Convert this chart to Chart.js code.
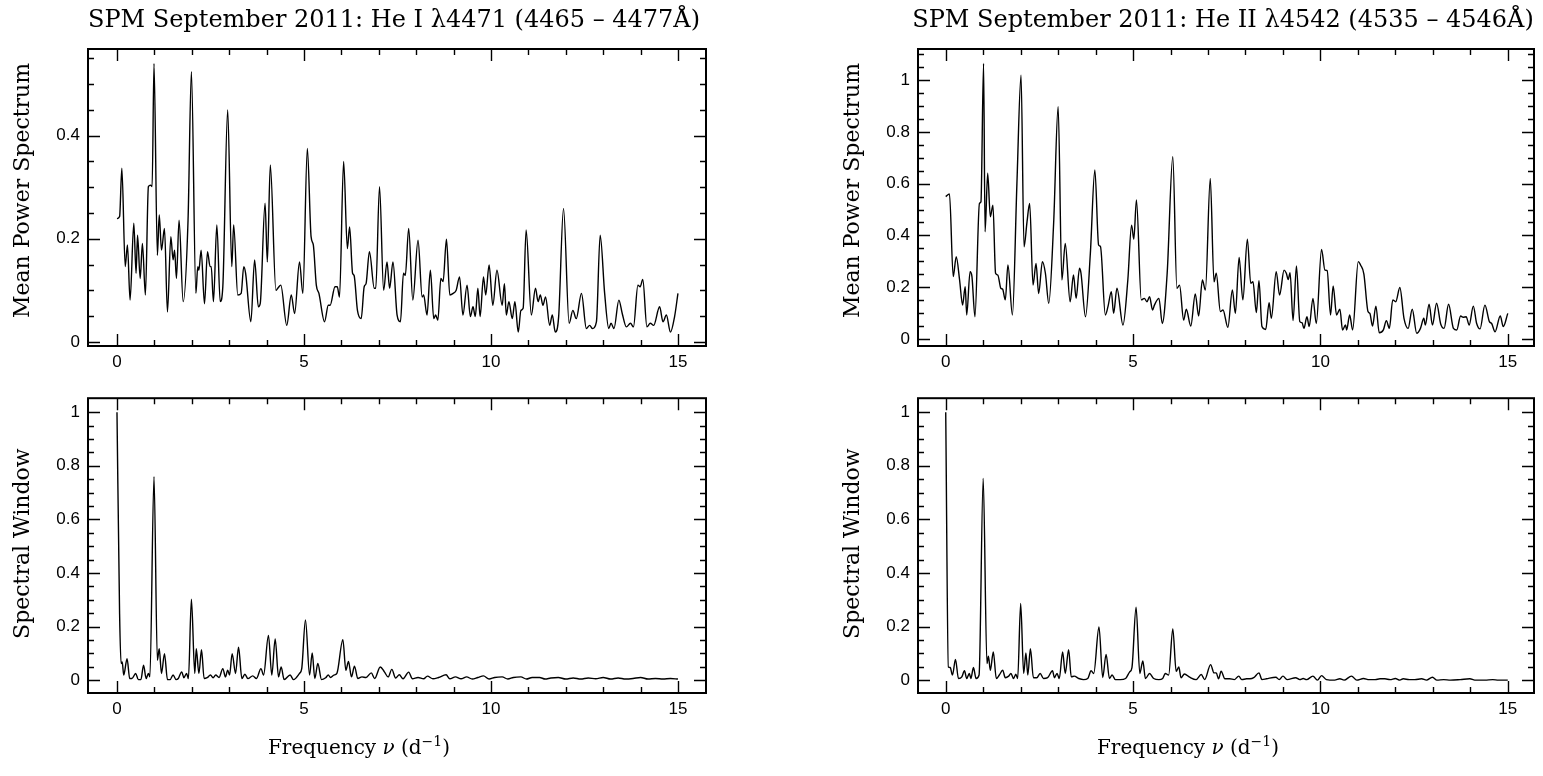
<!DOCTYPE html>
<html>
<head>
<meta charset="utf-8">
<script src="https://cdn.jsdelivr.net/npm/chart.js@4/dist/chart.umd.min.js"></script>
<style>
  html, body { margin: 0; padding: 0; background: #fff; overflow: hidden; }
  #page { position: relative; width: 1543px; height: 776px; }
  .panel { position: absolute; }
</style>
</head>
<body>
<div id="page">
  <div class="panel" style="left:0;top:0;width:760px;height:380px"><canvas id="heIPowerChart"></canvas></div>
  <div class="panel" style="left:830px;top:0;width:713px;height:380px"><canvas id="heIIPowerChart"></canvas></div>
  <div class="panel" style="left:0;top:380px;width:760px;height:396px"><canvas id="heIWindowChart"></canvas></div>
  <div class="panel" style="left:830px;top:380px;width:713px;height:396px"><canvas id="heIIWindowChart"></canvas></div>
</div>
<script>
// tick positions
const freqMajor = [0, 5, 10, 15];
const freqMinor = [0, 1, 2, 3, 4, 5, 6, 7, 8, 9, 10, 11, 12, 13, 14, 15];
const heIPowerMajor = [0, 0.2, 0.4];
const heIPowerMinor = [0, 0.05, 0.1, 0.15, 0.2, 0.25, 0.3, 0.35, 0.4, 0.45, 0.5, 0.55];
const heIIPowerMajor = [0, 0.2, 0.4, 0.6, 0.8, 1];
const heIIPowerMinor = [0, 0.05, 0.1, 0.15, 0.2, 0.25, 0.3, 0.35, 0.4, 0.45, 0.5, 0.55,
  0.6, 0.65, 0.7, 0.75, 0.8, 0.85, 0.9, 0.95, 1, 1.05, 1.1];
const windowMajor = [0, 0.2, 0.4, 0.6, 0.8, 1];
const windowMinor = [0, 0.05, 0.1, 0.15, 0.2, 0.25, 0.3, 0.35, 0.4, 0.45, 0.5,
  0.55, 0.6, 0.65, 0.7, 0.75, 0.8, 0.85, 0.9, 0.95, 1];

// He I 4471 mean power spectrum
const heIPowerFreq = [
  0, 0.07, 0.13, 0.22, 0.28, 0.35, 0.45, 0.51, 0.55, 0.62,
  0.68, 0.76, 0.84, 0.90, 0.94, 0.99, 1.08, 1.13, 1.19, 1.27,
  1.35, 1.44, 1.50, 1.54, 1.59, 1.66, 1.77, 1.90, 1.99, 2.11,
  2.16, 2.19, 2.25, 2.34, 2.42, 2.49, 2.52, 2.58, 2.67, 2.76,
  2.83, 2.96, 3.07, 3.12, 3.23, 3.32, 3.39, 3.44, 3.58, 3.68,
  3.78, 3.83, 3.96, 4.02, 4.10, 4.25, 4.30, 4.38, 4.54, 4.66,
  4.75, 4.88, 4.97, 5.09, 5.19, 5.25, 5.33, 5.40, 5.55, 5.65,
  5.70, 5.83, 5.89, 5.95, 6.06, 6.16, 6.22, 6.30, 6.34, 6.43,
  6.53, 6.61, 6.66, 6.75, 6.88, 6.92, 7.02, 7.13, 7.22, 7.29,
  7.38, 7.49, 7.58, 7.66, 7.71, 7.80, 7.91, 8.05, 8.16, 8.20,
  8.29, 8.38, 8.47, 8.52, 8.58, 8.66, 8.72, 8.81, 8.90, 8.99,
  9.07, 9.16, 9.25, 9.36, 9.45, 9.52, 9.58, 9.65, 9.71, 9.80,
  9.86, 9.95, 10.05, 10.16, 10.30, 10.36, 10.41, 10.48, 10.57, 10.64,
  10.73, 10.80, 10.86, 10.94, 11.08, 11.19, 11.26, 11.32, 11.39, 11.46,
  11.57, 11.64, 11.72, 11.81, 11.94, 12.09, 12.19, 12.28, 12.42, 12.55,
  12.64, 12.71, 12.82, 12.92, 13.04, 13.15, 13.21, 13.29, 13.42, 13.51,
  13.62, 13.73, 13.81, 13.93, 13.99, 14.06, 14.17, 14.26, 14.35, 14.51,
  14.60, 14.69, 14.80, 14.91, 15.00];
const heIPower = [
  0.239, 0.243, 0.337, 0.146, 0.188, 0.081, 0.230, 0.133, 0.207, 0.123,
  0.191, 0.091, 0.301, 0.304, 0.301, 0.540, 0.168, 0.246, 0.178, 0.220,
  0.058, 0.204, 0.159, 0.178, 0.123, 0.236, 0.078, 0.236, 0.524, 0.094,
  0.146, 0.139, 0.178, 0.074, 0.175, 0.146, 0.146, 0.078, 0.227, 0.078,
  0.107, 0.450, 0.146, 0.227, 0.091, 0.094, 0.146, 0.133, 0.039, 0.159,
  0.068, 0.074, 0.269, 0.155, 0.343, 0.100, 0.104, 0.110, 0.032, 0.091,
  0.055, 0.155, 0.094, 0.375, 0.204, 0.188, 0.110, 0.094, 0.039, 0.071,
  0.071, 0.107, 0.107, 0.087, 0.350, 0.181, 0.223, 0.133, 0.129, 0.061,
  0.045, 0.107, 0.113, 0.175, 0.104, 0.104, 0.301, 0.100, 0.155, 0.104,
  0.155, 0.052, 0.039, 0.133, 0.129, 0.220, 0.081, 0.197, 0.087, 0.091,
  0.052, 0.139, 0.045, 0.052, 0.042, 0.123, 0.117, 0.199, 0.091, 0.094,
  0.100, 0.126, 0.052, 0.110, 0.049, 0.068, 0.049, 0.104, 0.049, 0.126,
  0.091, 0.149, 0.071, 0.139, 0.071, 0.113, 0.052, 0.078, 0.045, 0.078,
  0.019, 0.061, 0.065, 0.217, 0.052, 0.104, 0.078, 0.091, 0.071, 0.087,
  0.032, 0.052, 0.019, 0.049, 0.259, 0.036, 0.061, 0.045, 0.094, 0.026,
  0.032, 0.026, 0.039, 0.207, 0.094, 0.026, 0.036, 0.026, 0.081, 0.055,
  0.029, 0.036, 0.029, 0.110, 0.107, 0.121, 0.029, 0.036, 0.032, 0.068,
  0.039, 0.052, 0.019, 0.049, 0.094];

// He II 4542 mean power spectrum
const heIIPowerFreq = [
  0, 0.10, 0.20, 0.28, 0.37, 0.45, 0.52, 0.56, 0.65, 0.70,
  0.78, 0.90, 0.94, 1.01, 1.05, 1.12, 1.19, 1.26, 1.33, 1.39,
  1.47, 1.52, 1.59, 1.66, 1.78, 1.90, 2.01, 2.09, 2.17, 2.24,
  2.33, 2.41, 2.48, 2.58, 2.66, 2.75, 2.88, 3.00, 3.10, 3.19,
  3.32, 3.41, 3.48, 3.57, 3.61, 3.73, 3.86, 3.98, 4.08, 4.13,
  4.26, 4.33, 4.42, 4.48, 4.57, 4.73, 4.86, 4.96, 5.02, 5.09,
  5.22, 5.30, 5.37, 5.44, 5.52, 5.57, 5.69, 5.78, 5.91, 6.06,
  6.17, 6.24, 6.35, 6.42, 6.54, 6.66, 6.75, 6.85, 6.93, 7.06,
  7.16, 7.22, 7.33, 7.40, 7.53, 7.65, 7.73, 7.83, 7.93, 8.05,
  8.14, 8.20, 8.29, 8.36, 8.44, 8.54, 8.63, 8.69, 8.82, 8.91,
  9.03, 9.09, 9.14, 9.19, 9.27, 9.36, 9.45, 9.51, 9.56, 9.64,
  9.70, 9.80, 9.89, 10.03, 10.12, 10.18, 10.27, 10.34, 10.43, 10.52,
  10.59, 10.67, 10.70, 10.78, 10.86, 11.01, 11.07, 11.16, 11.27, 11.32,
  11.39, 11.48, 11.57, 11.68, 11.76, 11.84, 11.93, 12.01, 12.12, 12.23,
  12.34, 12.45, 12.57, 12.67, 12.76, 12.80, 12.90, 12.99, 13.10, 13.21,
  13.30, 13.42, 13.55, 13.64, 13.74, 13.81, 13.89, 13.97, 14.08, 14.17,
  14.26, 14.39, 14.51, 14.57, 14.66, 14.80, 14.88, 15.00];
const heIIPower = [
  0.550, 0.560, 0.241, 0.318, 0.228, 0.131, 0.202, 0.093, 0.260, 0.241,
  0.086, 0.524, 0.530, 1.064, 0.414, 0.640, 0.472, 0.517, 0.254, 0.247,
  0.196, 0.192, 0.151, 0.286, 0.093, 0.601, 1.019, 0.356, 0.453, 0.524,
  0.208, 0.292, 0.176, 0.299, 0.254, 0.138, 0.447, 0.897, 0.228, 0.369,
  0.144, 0.247, 0.157, 0.273, 0.254, 0.086, 0.331, 0.653, 0.363, 0.357,
  0.093, 0.125, 0.183, 0.099, 0.196, 0.054, 0.228, 0.440, 0.386, 0.537,
  0.151, 0.157, 0.144, 0.163, 0.112, 0.131, 0.157, 0.060, 0.254, 0.704,
  0.196, 0.208, 0.073, 0.115, 0.050, 0.174, 0.089, 0.228, 0.189, 0.620,
  0.221, 0.254, 0.106, 0.112, 0.045, 0.189, 0.099, 0.315, 0.151, 0.385,
  0.215, 0.221, 0.102, 0.225, 0.048, 0.037, 0.140, 0.080, 0.260, 0.170,
  0.266, 0.254, 0.230, 0.256, 0.071, 0.282, 0.067, 0.063, 0.041, 0.086,
  0.048, 0.157, 0.060, 0.346, 0.266, 0.264, 0.093, 0.205, 0.093, 0.115,
  0.035, 0.054, 0.035, 0.093, 0.035, 0.299, 0.286, 0.251, 0.106, 0.099,
  0.050, 0.127, 0.024, 0.035, 0.071, 0.041, 0.151, 0.144, 0.199, 0.080,
  0.041, 0.115, 0.022, 0.041, 0.080, 0.054, 0.134, 0.054, 0.138, 0.058,
  0.041, 0.134, 0.041, 0.035, 0.089, 0.084, 0.086, 0.054, 0.127, 0.060,
  0.039, 0.131, 0.067, 0.060, 0.028, 0.089, 0.048, 0.099];

// He I spectral window
const heIWindowFreq = [
  0, 0.07, 0.11, 0.14, 0.18, 0.27, 0.34, 0.40, 0.50, 0.57,
  0.64, 0.71, 0.78, 0.84, 0.88, 0.99, 1.08, 1.13, 1.19, 1.27,
  1.35, 1.42, 1.50, 1.58, 1.64, 1.73, 1.79, 1.86, 1.91, 1.99,
  2.08, 2.12, 2.19, 2.26, 2.33, 2.41, 2.50, 2.57, 2.64, 2.73,
  2.83, 2.90, 2.96, 3.01, 3.08, 3.17, 3.25, 3.34, 3.42, 3.50,
  3.63, 3.73, 3.85, 3.92, 4.05, 4.14, 4.23, 4.32, 4.39, 4.47,
  4.63, 4.72, 4.88, 4.94, 5.04, 5.15, 5.22, 5.29, 5.37, 5.47,
  5.58, 5.65, 5.71, 5.80, 5.88, 6.04, 6.12, 6.19, 6.27, 6.35,
  6.44, 6.55, 6.66, 6.80, 6.89, 7.04, 7.15, 7.25, 7.35, 7.45,
  7.55, 7.65, 7.80, 7.90, 8.05, 8.20, 8.30, 8.45, 8.60, 8.80,
  8.90, 9.05, 9.20, 9.35, 9.50, 9.65, 9.80, 9.95, 10.10, 10.30,
  10.45, 10.60, 10.80, 10.95, 11.10, 11.30, 11.45, 11.60, 11.80, 12.00,
  12.20, 12.40, 12.60, 12.80, 13.00, 13.20, 13.40, 13.60, 13.80, 14.00,
  14.20, 14.40, 14.60, 14.80, 15.00];
const heIWindow = [
  1.000, 0.247, 0.062, 0.068, 0.019, 0.080, 0.006, 0.006, 0.025, 0.002,
  0.002, 0.056, 0.006, 0.025, 0.012, 0.759, 0.074, 0.117, 0.025, 0.099,
  0.002, 0.002, 0.019, 0.002, 0.006, 0.031, 0.009, 0.025, 0.006, 0.302,
  0.025, 0.117, 0.025, 0.114, 0.006, 0.009, 0.019, 0.009, 0.019, 0.010,
  0.043, 0.012, 0.037, 0.019, 0.099, 0.025, 0.123, 0.006, 0.022, 0.006,
  0.016, 0.006, 0.043, 0.019, 0.167, 0.019, 0.154, 0.012, 0.049, 0.002,
  0.019, 0.002, 0.025, 0.043, 0.225, 0.019, 0.101, 0.006, 0.062, 0.002,
  0.009, 0.019, 0.010, 0.019, 0.025, 0.151, 0.037, 0.070, 0.012, 0.052,
  0.006, 0.012, 0.010, 0.027, 0.006, 0.049, 0.031, 0.012, 0.040, 0.008,
  0.020, 0.005, 0.030, 0.005, 0.010, 0.005, 0.015, 0.005, 0.010, 0.020,
  0.005, 0.012, 0.005, 0.012, 0.004, 0.010, 0.016, 0.004, 0.010, 0.012,
  0.004, 0.010, 0.012, 0.004, 0.010, 0.010, 0.004, 0.008, 0.010, 0.004,
  0.008, 0.004, 0.008, 0.005, 0.010, 0.004, 0.008, 0.004, 0.006, 0.010,
  0.004, 0.006, 0.004, 0.006, 0.004];

// He II spectral window
const heIIWindowFreq = [
  0, 0.07, 0.12, 0.18, 0.26, 0.34, 0.43, 0.50, 0.56, 0.63,
  0.67, 0.74, 0.81, 0.89, 1.00, 1.10, 1.14, 1.19, 1.27, 1.35,
  1.43, 1.52, 1.59, 1.68, 1.74, 1.81, 1.87, 1.92, 2.00, 2.08,
  2.14, 2.19, 2.26, 2.34, 2.43, 2.52, 2.61, 2.72, 2.85, 2.90,
  2.97, 3.03, 3.12, 3.19, 3.28, 3.35, 3.43, 3.55, 3.68, 3.79,
  3.88, 3.95, 4.09, 4.19, 4.28, 4.37, 4.44, 4.53, 4.66, 4.80,
  4.91, 4.97, 5.08, 5.18, 5.26, 5.33, 5.44, 5.55, 5.69, 5.79,
  5.86, 5.95, 6.06, 6.15, 6.22, 6.28, 6.37, 6.51, 6.68, 6.82,
  6.91, 7.07, 7.16, 7.22, 7.28, 7.35, 7.45, 7.58, 7.70, 7.82,
  7.90, 8.03, 8.12, 8.22, 8.36, 8.44, 8.56, 8.81, 8.90, 9.00,
  9.11, 9.34, 9.45, 9.54, 9.63, 9.80, 9.92, 10.03, 10.16, 10.38,
  10.52, 10.63, 10.83, 10.97, 11.15, 11.30, 11.46, 11.59, 11.72, 11.86,
  12.00, 12.12, 12.21, 12.37, 12.52, 12.70, 12.83, 12.99, 13.11, 13.29,
  13.47, 13.73, 13.99, 14.12, 14.39, 14.60, 14.75, 15.00];
const heIIWindow = [
  1.000, 0.049, 0.047, 0.019, 0.077, 0.006, 0.012, 0.035, 0.006, 0.025,
  0.006, 0.047, 0.006, 0.019, 0.753, 0.062, 0.089, 0.037, 0.105, 0.006,
  0.019, 0.037, 0.009, 0.015, 0.025, 0.006, 0.022, 0.006, 0.286, 0.025,
  0.101, 0.019, 0.117, 0.009, 0.009, 0.025, 0.006, 0.009, 0.035, 0.009,
  0.025, 0.006, 0.105, 0.025, 0.114, 0.012, 0.015, 0.006, 0.002, 0.006,
  0.035, 0.025, 0.198, 0.010, 0.096, 0.006, 0.019, 0.002, 0.002, 0.006,
  0.031, 0.047, 0.272, 0.025, 0.072, 0.006, 0.025, 0.006, 0.002, 0.006,
  0.025, 0.019, 0.191, 0.033, 0.049, 0.009, 0.023, 0.011, 0.002, 0.021,
  0.002, 0.058, 0.027, 0.027, 0.005, 0.033, 0.005, 0.005, 0.002, 0.015,
  0.002, 0.005, 0.005, 0.009, 0.027, 0.002, 0.005, 0.011, 0.002, 0.015,
  0.002, 0.009, 0.002, 0.006, 0.002, 0.015, 0.000, 0.017, 0.002, 0.000,
  0.005, 0.000, 0.015, 0.000, 0.006, 0.002, 0.002, 0.005, 0.005, 0.002,
  0.006, 0.000, 0.005, 0.002, 0.002, 0.005, 0.000, 0.011, 0.000, 0.002,
  0.000, 0.002, 0.005, 0.000, 0.000, 0.002, 0.000, 0.000];

const SERIF = '"DejaVu Serif", "Liberation Serif", serif';
const SANS = '"Liberation Sans", Arial, sans-serif';

// PGPLOT-style box: frame, inward ticks on all sides, titles
const pgFrame = {
  id: "pgFrame",
  afterDraw(chart, args, opts) {
    const { ctx, chartArea: a, scales } = chart;
    const xs = scales.x, ys = scales.y;
    ctx.save();
    ctx.strokeStyle = "#000";
    ctx.lineWidth = 1.4;
    ctx.beginPath();
    for (const v of opts.xMinor) {
      const px = Math.round(xs.getPixelForValue(v)) + 0.5;
      const len = opts.xMajor.includes(v) ? 12 : 6;
      ctx.moveTo(px, a.bottom); ctx.lineTo(px, a.bottom - len);
      ctx.moveTo(px, a.top); ctx.lineTo(px, a.top + len);
    }
    for (const v of opts.yMinor) {
      const py = Math.round(ys.getPixelForValue(v)) + 0.5;
      const len = opts.yMajor.some((m) => Math.abs(m - v) < 1e-9) ? 12 : 6;
      ctx.moveTo(a.left, py); ctx.lineTo(a.left + len, py);
      ctx.moveTo(a.right, py); ctx.lineTo(a.right - len, py);
    }
    ctx.stroke();
    ctx.lineWidth = 2;
    ctx.strokeRect(a.left, a.top, a.right - a.left, a.bottom - a.top);

    ctx.fillStyle = "#000";
    const cx = (a.left + a.right) / 2;
    const cy = (a.top + a.bottom) / 2;

    // vertical axis title
    ctx.save();
    ctx.translate(a.left - 65, cy + opts.yTitleShift);
    ctx.rotate(-Math.PI / 2);
    ctx.font = `22px ${SERIF}`;
    ctx.textAlign = "center";
    ctx.textBaseline = "middle";
    ctx.fillText(opts.yTitle, 0, 0);
    ctx.restore();

    if (opts.title) {
      ctx.font = `24px ${SERIF}`;
      ctx.textAlign = "center";
      ctx.textBaseline = "alphabetic";
      ctx.fillText(opts.title, cx - 3, a.top - 22);
    }
    if (opts.xLabel) {
      const parts = [
        ["Frequency ", `20px ${SERIF}`, 0],
        ["\u03bd", `italic 20px ${SERIF}`, 0],
        [" (d", `20px ${SERIF}`, 0],
        ["\u22121", `14px ${SERIF}`, -8],
        [")", `20px ${SERIF}`, 0],
      ];
      let total = 0;
      for (const [t, f] of parts) { ctx.font = f; total += ctx.measureText(t).width; }
      let x = cx - 38 - total / 2;
      const base = a.bottom + 61;
      ctx.textAlign = "left";
      ctx.textBaseline = "alphabetic";
      for (const [t, f, dy] of parts) {
        ctx.font = f;
        ctx.fillText(t, x, base + dy);
        x += ctx.measureText(t).width;
      }
    }
    ctx.restore();
  },
};

function fmtTick(v) {
  if (Math.abs(v) < 1e-9) return "0";
  return String(Math.round(v * 10) / 10);
}

function makePanel(id, p) {
  if (p.freq.length !== p.vals.length) throw new Error(`${id}: ${p.freq.length} vs ${p.vals.length}`);
  const points = p.freq.map((f, i) => ({ x: f, y: p.vals[i] }));
  return new Chart(document.getElementById(id), {
    type: "line",
    data: {
      datasets: [{
        data: points,
        borderColor: "#000",
        borderWidth: 1.4,
        pointRadius: 0,
        fill: false,
        cubicInterpolationMode: "monotone",
      }],
    },
    options: {
      responsive: true,
      maintainAspectRatio: false,
      animation: false,
      layout: { padding: { top: p.padTop, right: p.padRight, left: 0, bottom: 0 } },
      plugins: {
        legend: { display: false },
        tooltip: { enabled: false },
        pgFrame: {
          xMajor: freqMajor, xMinor: freqMinor,
          yMajor: p.yMajor, yMinor: p.yMinor,
          title: p.title, xLabel: p.xLabel,
          yTitle: p.yTitle, yTitleShift: p.yTitleShift,
        },
      },
      scales: {
        x: {
          type: "linear",
          min: p.xMin, max: p.xMax,
          grid: { display: false, drawTicks: false },
          border: { display: false },
          ticks: {
            stepSize: 5, includeBounds: false, autoSkip: false, maxRotation: 0,
            padding: 6, color: "#000", font: { family: SANS, size: 17 },
            callback: (v) => (Math.abs(v % 5) < 1e-9 ? String(v) : ""),
          },
          afterFit: (s) => { s.height = p.xAxisH; },
        },
        y: {
          min: p.yMin, max: p.yMax,
          grid: { display: false, drawTicks: false },
          border: { display: false },
          ticks: {
            stepSize: 0.2, includeBounds: false, autoSkip: false,
            padding: 8, color: "#000", font: { family: SANS, size: 17 },
            callback: (v) => (Math.abs(v / 0.2 - Math.round(v / 0.2)) < 1e-6 ? fmtTick(v) : ""),
          },
          afterFit: (s) => { s.width = 88; },
        },
      },
    },
    plugins: [pgFrame],
  });
}

makePanel("heIPowerChart", {
  freq: heIPowerFreq, vals: heIPower,
  xMin: -0.775, xMax: 15.75, yMin: -0.008, yMax: 0.568,
  yMajor: heIPowerMajor, yMinor: heIPowerMinor,
  yTitle: "Mean Power Spectrum", yTitleShift: -7,
  title: "SPM September 2011: He I \u03bb4471 (4465 \u2013 4477\u00c5)",
  padTop: 49, padRight: 54, xAxisH: 34,
});
makePanel("heIIPowerChart", {
  freq: heIIPowerFreq, vals: heIIPower,
  xMin: -0.74, xMax: 15.70, yMin: -0.027, yMax: 1.12,
  yMajor: heIIPowerMajor, yMinor: heIIPowerMinor,
  yTitle: "Mean Power Spectrum", yTitleShift: -7,
  title: "SPM September 2011: He II \u03bb4542 (4535 \u2013 4546\u00c5)",
  padTop: 49, padRight: 9, xAxisH: 34,
});
makePanel("heIWindowChart", {
  freq: heIWindowFreq, vals: heIWindow,
  xMin: -0.775, xMax: 15.75, yMin: -0.048, yMax: 1.052,
  yMajor: windowMajor, yMinor: windowMinor,
  yTitle: "Spectral Window", yTitleShift: -2, xLabel: true,
  padTop: 16, padRight: 54, xAxisH: 83,
});
makePanel("heIIWindowChart", {
  freq: heIIWindowFreq, vals: heIIWindow,
  xMin: -0.74, xMax: 15.70, yMin: -0.048, yMax: 1.052,
  yMajor: windowMajor, yMinor: windowMinor,
  yTitle: "Spectral Window", yTitleShift: -2, xLabel: true,
  padTop: 16, padRight: 9, xAxisH: 83,
});
</script>
</body>
</html>
